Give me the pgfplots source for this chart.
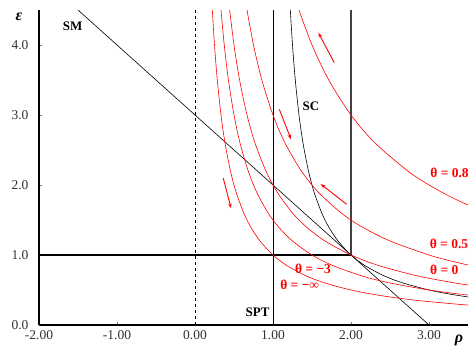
\documentclass[border=0pt]{standalone}
\usepackage{fontspec}
\setmainfont{Liberation Serif}
\usepackage{pgfplots}
\pgfplotsset{compat=1.18}
\usetikzlibrary{arrows.meta}
\tikzset{
 red label/.style={text=red, font=\fontsize{13.5}{15}\selectfont\bfseries},
 black label/.style={text=black, font=\fontsize{13}{15}\selectfont\bfseries},
}
\begin{document}
\begin{tikzpicture}
\useasboundingbox (-39pt,-22pt) rectangle (431pt,325pt);
\begin{axis}[
 at={(0,0)}, anchor=south west,
 scale only axis, width=429pt, height=315pt,
 xmin=-2, xmax=3.5, ymin=0, ymax=4.5,
 axis x line=bottom, axis y line=left,
 axis line style={-, line width=1.1pt},
 clip=false,
 xtick={-2,-1,0,1,2,3}, ytick={0,1,2,3,4},
 tick align=inside, major tick length=3pt,
 tick style={black!50, line width=0.6pt},
 /pgf/number format/assume math mode=true,
 x tick label style={/pgf/number format/fixed, /pgf/number format/fixed zerofill, /pgf/number format/precision=2, yshift=-1.5pt},
 y tick label style={/pgf/number format/fixed, /pgf/number format/fixed zerofill, /pgf/number format/precision=1, xshift=-7pt},
 tick label style={font=\fontsize{13.5}{15}\selectfont, text=black!80},
]
% reference lines
\addplot[black, dashed, line width=0.6pt] coordinates {(0,0) (0,4.5)};
\addplot[black, line width=0.6pt] coordinates {(1,0) (1,4.5)};
\addplot[black!75, line width=1.6pt] coordinates {(2,1) (2,4.5)};
\addplot[black, line width=1.2pt] coordinates {(-2,1) (2,1)};
% SM line
\addplot[black, line width=0.6pt] coordinates {(-1.5,4.5) (3,0)};
% SC curve
\addplot[black, line width=0.6pt, smooth] coordinates {
 (1.2222,4.5) (1.25,4.0) (1.2857,3.5) (1.3333,3.0) (1.3846,2.6) (1.4545,2.2)
 (1.5263,1.9) (1.625,1.6) (1.7143,1.4) (1.8333,1.2) (2.0,1.0) (2.1765,0.85)
 (2.4286,0.7) (2.6667,0.6) (3.0,0.5) (3.2222,0.45) (3.5,0.4)};
% red curves
\addplot[red, line width=0.6pt, smooth] coordinates {
 (0.2222,4.5) (0.25,4.0) (0.2857,3.5) (0.3333,3.0) (0.3846,2.6) (0.4545,2.2)
 (0.5263,1.9) (0.625,1.6) (0.7143,1.4) (0.8333,1.2) (1.0,1.0) (1.1765,0.85)
 (1.4286,0.7) (1.6667,0.6) (2.0,0.5) (2.381,0.42) (2.8571,0.35) (3.3333,0.3) (3.5,0.2857)};
\addplot[red, line width=0.6pt, smooth] coordinates {
 (0.3333,4.5) (0.375,4.0) (0.4286,3.5) (0.5,3.0) (0.5769,2.6) (0.6818,2.2)
 (0.7895,1.9) (0.9375,1.6) (1.0714,1.4) (1.25,1.2) (1.5,1.0) (1.7647,0.85)
 (2.1429,0.7) (2.5,0.6) (3.0,0.5) (3.3333,0.45) (3.5,0.4286)};
\addplot[red, line width=0.6pt, smooth] coordinates {
 (0.4444,4.5) (0.5,4.0) (0.5714,3.5) (0.6667,3.0) (0.7692,2.6) (0.9091,2.2)
 (1.0526,1.9) (1.25,1.6) (1.4286,1.4) (1.6667,1.2) (2.0,1.0) (2.3529,0.85)
 (2.8571,0.7) (3.3333,0.6) (3.5,0.5714)};
\addplot[red, line width=0.6pt, smooth] coordinates {
 (0.6667,4.5) (0.75,4.0) (0.8571,3.5) (1.0,3.0) (1.1538,2.6) (1.3636,2.2)
 (1.5789,1.9) (1.875,1.6) (2.1429,1.4) (2.5,1.2) (3.0,1.0) (3.2609,0.92) (3.5,0.8571)};
\addplot[red, line width=0.6pt, smooth] coordinates {
 (1.3333,4.5) (1.5,4.0) (1.7143,3.5) (2.0,3.0) (2.3077,2.6) (2.7273,2.2)
 (2.9268,2.05) (3.1579,1.9) (3.3333,1.8) (3.5,1.7143)};
% arrows
\addplot[red, line width=0.9pt, -{Stealth[length=5pt,width=3.5pt]}] coordinates {(1.786,3.747) (1.581,4.176)};
\addplot[red, line width=0.9pt, -{Stealth[length=5pt,width=3.5pt]}] coordinates {(1.081,3.081) (1.231,2.653)};
\addplot[red, line width=0.9pt, -{Stealth[length=5pt,width=3.5pt]}] coordinates {(0.363,2.096) (0.462,1.667)};
\addplot[red, line width=0.9pt, -{Stealth[length=5pt,width=3.5pt]}] coordinates {(1.944,1.724) (1.611,2.014)};
% labels
\node[black label] at (axis cs:-1.568,4.261) {SM};
\node[black label] at (axis cs:1.487,3.124) {SC};
\node[black label] at (axis cs:0.803,0.176) {SPT};
\node[red label] at (axis cs:3.263,2.171) {θ = 0.8};
\node[red label] at (axis cs:3.256,1.157) {θ = 0.5};
\node[red label] at (axis cs:3.195,0.781) {θ = 0};
\node[red label] at (axis cs:1.513,0.804) {θ = −3};
\node[red label] at (axis cs:1.342,0.567) {θ = −∞};
\node[font=\fontsize{16}{18}\selectfont\bfseries\itshape] at (axis cs:3.385,-0.214) {ρ};
\node[font=\fontsize{16}{18}\selectfont\bfseries\itshape] at (axis cs:-2.256,4.4) {ε};
\end{axis}
\end{tikzpicture}
\end{document}
